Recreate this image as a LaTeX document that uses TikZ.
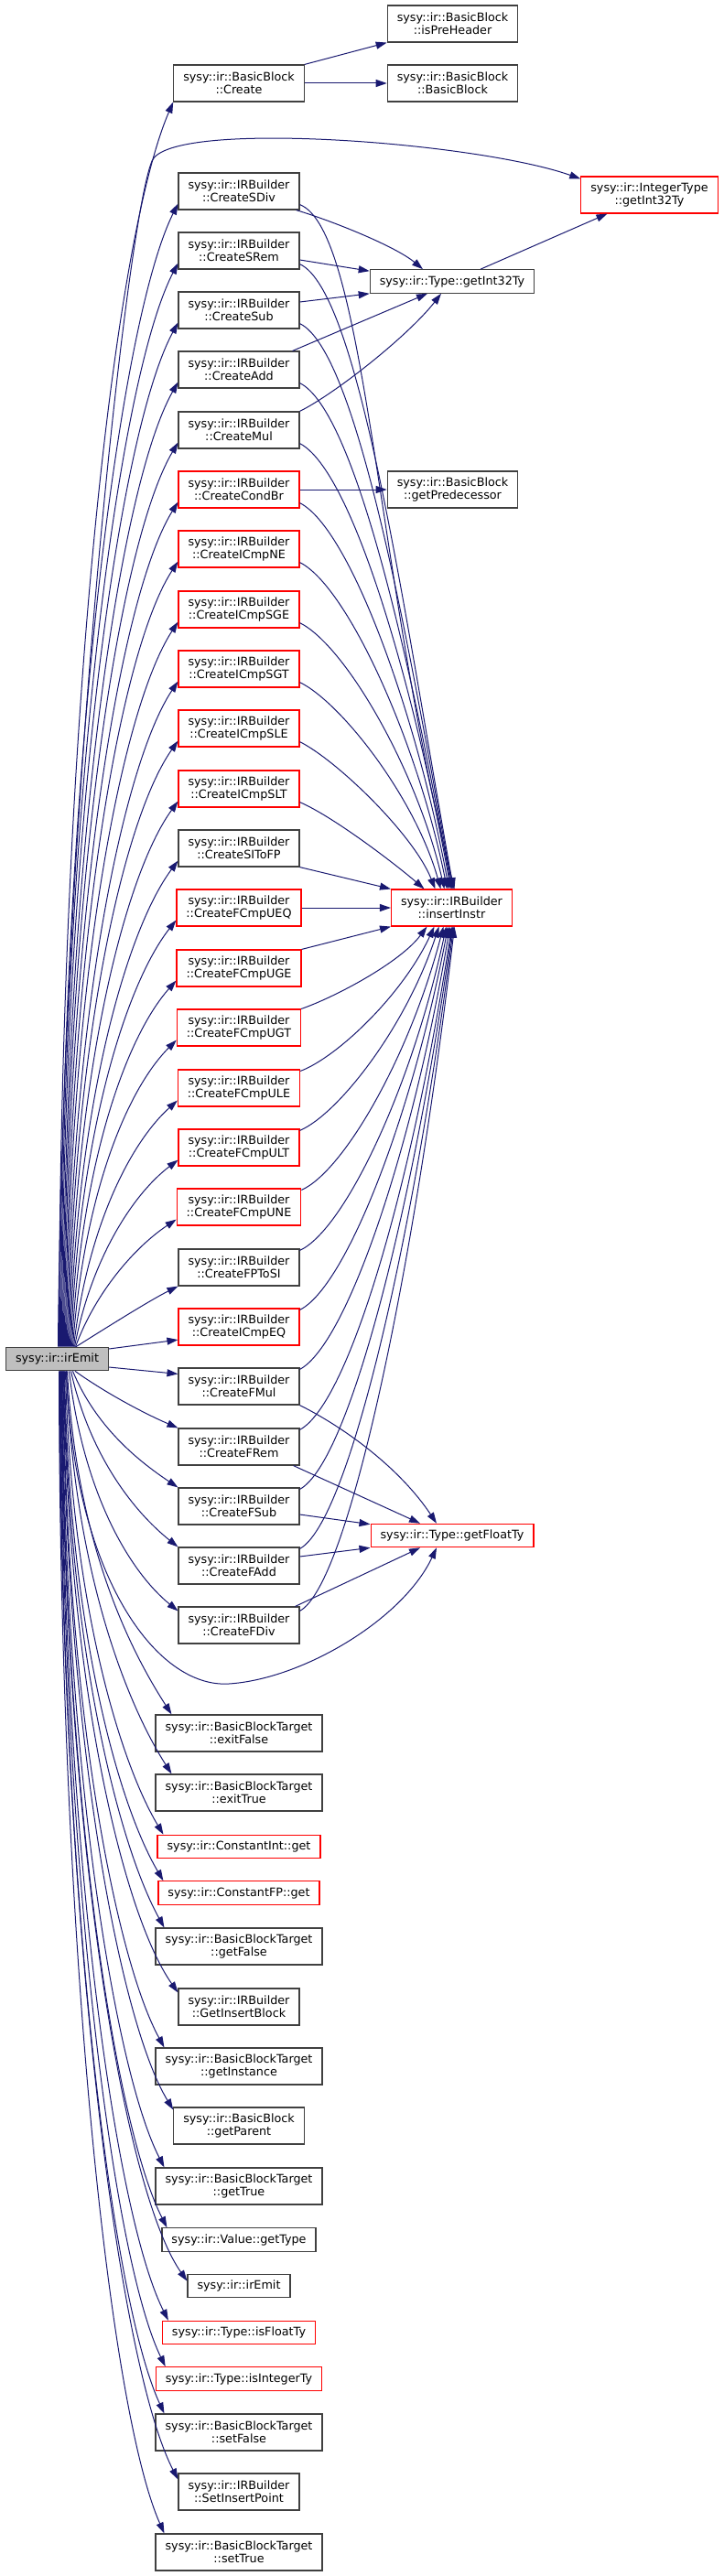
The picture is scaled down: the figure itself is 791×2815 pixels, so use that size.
\documentclass[tikz,border=0pt]{standalone}
\usepackage{fontspec}
\setmainfont{DejaVu Sans}
\usepackage{tikz}
\usetikzlibrary{arrows.meta}
\definecolor{edgeblue}{HTML}{191970}
\definecolor{grey25}{HTML}{404040}
\definecolor{grey75}{HTML}{BFBFBF}
\newcommand{\graphfont}{\fontsize{12.75pt}{14pt}\selectfont}

\begin{document}
\begin{tikzpicture}[x=1pt, y=-1pt, >={Triangle[length=12pt, width=8pt]},
    fn/.style={draw=grey25, line width=1.15pt, fill=white, align=center, font=\graphfont, inner xsep=10.5pt, inner ysep=0pt, minimum height=40pt},
    fnone/.style={fn, minimum height=25.5pt},
    trunc/.style={draw=red},
    rootfn/.style={fnone, fill=grey75},
    call/.style={->, draw=edgeblue, line width=1pt}]
	\useasboundingbox (0,0) rectangle (791,2815);
	\node[rootfn] (emit) at (62.5,1485) {sysy::ir::irEmit};
	% callees of irEmit
	\node[fn]        (bbcreate)    at (261,91)   {sysy::ir::BasicBlock\\::Create};
	\node[fn]        (sdiv)        at (261,209)  {sysy::ir::IRBuilder\\::CreateSDiv};
	\node[fn]        (srem)        at (261,274)  {sysy::ir::IRBuilder\\::CreateSRem};
	\node[fn]        (sub)         at (261,339)  {sysy::ir::IRBuilder\\::CreateSub};
	\node[fn]        (add)         at (261,404)  {sysy::ir::IRBuilder\\::CreateAdd};
	\node[fn]        (mul)         at (261,470)  {sysy::ir::IRBuilder\\::CreateMul};
	\node[fn, trunc] (condbr)      at (261,535)  {sysy::ir::IRBuilder\\::CreateCondBr};
	\node[fn, trunc] (icmpne)      at (261,600)  {sysy::ir::IRBuilder\\::CreateICmpNE};
	\node[fn, trunc] (icmpsge)     at (261,666)  {sysy::ir::IRBuilder\\::CreateICmpSGE};
	\node[fn, trunc] (icmpsgt)     at (261,731)  {sysy::ir::IRBuilder\\::CreateICmpSGT};
	\node[fn, trunc] (icmpsle)     at (261,796)  {sysy::ir::IRBuilder\\::CreateICmpSLE};
	\node[fn, trunc] (icmpslt)     at (261,862)  {sysy::ir::IRBuilder\\::CreateICmpSLT};
	\node[fn]        (sitofp)      at (261,927)  {sysy::ir::IRBuilder\\::CreateSIToFP};
	\node[fn, trunc] (fcmpueq)     at (261,992)  {sysy::ir::IRBuilder\\::CreateFCmpUEQ};
	\node[fn, trunc] (fcmpuge)     at (261,1058) {sysy::ir::IRBuilder\\::CreateFCmpUGE};
	\node[fn, trunc] (fcmpugt)     at (261,1123) {sysy::ir::IRBuilder\\::CreateFCmpUGT};
	\node[fn, trunc] (fcmpule)     at (261,1189) {sysy::ir::IRBuilder\\::CreateFCmpULE};
	\node[fn, trunc] (fcmpult)     at (261,1254) {sysy::ir::IRBuilder\\::CreateFCmpULT};
	\node[fn, trunc] (fcmpune)     at (261,1319) {sysy::ir::IRBuilder\\::CreateFCmpUNE};
	\node[fn]        (fptosi)      at (261,1385) {sysy::ir::IRBuilder\\::CreateFPToSI};
	\node[fn, trunc] (icmpeq)      at (261,1450) {sysy::ir::IRBuilder\\::CreateICmpEQ};
	\node[fn]        (fmul)        at (261,1515) {sysy::ir::IRBuilder\\::CreateFMul};
	\node[fn]        (frem)        at (261,1581) {sysy::ir::IRBuilder\\::CreateFRem};
	\node[fn]        (fsub)        at (261,1646) {sysy::ir::IRBuilder\\::CreateFSub};
	\node[fn]        (fadd)        at (261,1711) {sysy::ir::IRBuilder\\::CreateFAdd};
	\node[fn]        (fdiv)        at (261,1776) {sysy::ir::IRBuilder\\::CreateFDiv};
	\node[fn]        (exitfalse)   at (261,1894) {sysy::ir::BasicBlockTarget\\::exitFalse};
	\node[fn]        (exittrue)    at (261,1959) {sysy::ir::BasicBlockTarget\\::exitTrue};
	\node[fnone, trunc] (cintget)  at (261,2018) {sysy::ir::ConstantInt::get};
	\node[fnone, trunc] (cfpget)   at (261,2068.5) {sysy::ir::ConstantFP::get};
	\node[fn]        (getfalse)    at (261,2127) {sysy::ir::BasicBlockTarget\\::getFalse};
	\node[fn]        (getinsert)   at (261,2193) {sysy::ir::IRBuilder\\::GetInsertBlock};
	\node[fn]        (getinstance) at (261,2258) {sysy::ir::BasicBlockTarget\\::getInstance};
	\node[fn]        (getparent)   at (261,2323) {sysy::ir::BasicBlock\\::getParent};
	\node[fn]        (gettrue)     at (261,2389) {sysy::ir::BasicBlockTarget\\::getTrue};
	\node[fnone]     (gettype)     at (261,2447.5) {sysy::ir::Value::getType};
	\node[fnone]     (iremit)      at (261,2498) {sysy::ir::irEmit};
	\node[fnone, trunc] (isfloat)  at (261,2549) {sysy::ir::Type::isFloatTy};
	\node[fnone, trunc] (isint)    at (261,2599.5) {sysy::ir::Type::isIntegerTy};
	\node[fn]        (setfalse)    at (261,2658) {sysy::ir::BasicBlockTarget\\::setFalse};
	\node[fn]        (setinsert)   at (261,2723) {sysy::ir::IRBuilder\\::SetInsertPoint};
	\node[fn]        (settrue)     at (261,2789) {sysy::ir::BasicBlockTarget\\::setTrue};
	% second level
	\node[fn]        (ispreheader) at (494.5,26)  {sysy::ir::BasicBlock\\::isPreHeader};
	\node[fn]        (bbctor)      at (494.5,91)  {sysy::ir::BasicBlock\\::BasicBlock};
	\node[fnone]     (int32)       at (494,307.5) {sysy::ir::Type::getInt32Ty};
	\node[fn]        (getpred)     at (494.5,535) {sysy::ir::BasicBlock\\::getPredecessor};
	\node[fn, trunc] (insert)      at (493.5,992) {sysy::ir::IRBuilder\\::insertInstr};
	\node[fnone, trunc] (floatty)  at (494,1678)  {sysy::ir::Type::getFloatTy};
	\node[fn, trunc] (intty)       at (709.5,213) {sysy::ir::IntegerType\\::getInt32Ty};
	% irEmit, upward calls
	\draw[call] ([xshift=2pt]emit.north) .. controls +(1,-680) and +(-65,150) .. (bbcreate.south west);
	\draw[call] ([xshift=1pt]emit.north) .. controls (68,900) and (137.5,245) .. (166,176) .. controls (185,130) and (520,155) .. ([yshift=-3pt]intty.north west);
	\draw[call] ([xshift=3pt]emit.north) .. controls +(1,-620) and +(-65,130) .. ([yshift=7pt]sdiv.south west);
	\draw[call] ([xshift=4pt]emit.north) .. controls +(1,-590) and +(-65,125) .. ([yshift=7pt]srem.south west);
	\draw[call] ([xshift=5pt]emit.north) .. controls +(1,-560) and +(-65,120) .. ([yshift=7pt]sub.south west);
	\draw[call] ([xshift=6pt]emit.north) .. controls +(2,-530) and +(-65,115) .. ([yshift=7pt]add.south west);
	\draw[call] ([xshift=7pt]emit.north) .. controls +(2,-500) and +(-65,110) .. ([yshift=7pt]mul.south west);
	\draw[call] ([xshift=8pt]emit.north) .. controls +(2,-460) and +(-65,105) .. ([yshift=7pt]condbr.south west);
	\draw[call] ([xshift=9pt]emit.north) .. controls +(3,-430) and +(-65,100) .. ([yshift=7pt]icmpne.south west);
	\draw[call] ([xshift=10pt]emit.north) .. controls +(3,-400) and +(-62,95) .. ([yshift=7pt]icmpsge.south west);
	\draw[call] ([xshift=11pt]emit.north) .. controls +(4,-360) and +(-60,90) .. ([yshift=7pt]icmpsgt.south west);
	\draw[call] ([xshift=12pt]emit.north) .. controls +(5,-330) and +(-60,85) .. ([yshift=7pt]icmpsle.south west);
	\draw[call] ([xshift=13pt]emit.north) .. controls +(6,-300) and +(-58,80) .. ([yshift=7pt]icmpslt.south west);
	\draw[call] ([xshift=14pt]emit.north) .. controls +(7,-265) and +(-56,75) .. ([yshift=7pt]sitofp.south west);
	\draw[call] ([xshift=15pt]emit.north) .. controls +(8,-230) and +(-55,70) .. ([yshift=7pt]fcmpueq.south west);
	\draw[call] ([xshift=16pt]emit.north) .. controls +(10,-200) and +(-55,62) .. ([yshift=7pt]fcmpuge.south west);
	\draw[call] ([xshift=17pt]emit.north) .. controls +(12,-165) and +(-55,55) .. ([yshift=7pt]fcmpugt.south west);
	\draw[call] ([xshift=18pt]emit.north) .. controls +(15,-130) and +(-52,47) .. ([yshift=7pt]fcmpule.south west);
	\draw[call] ([xshift=19pt]emit.north) .. controls +(18,-95) and +(-50,38) .. ([yshift=7pt]fcmpult.south west);
	\draw[call] ([xshift=20pt]emit.north) .. controls +(22,-60) and +(-45,30) .. ([yshift=7pt]fcmpune.south west);
	\draw[call] ([xshift=20.5pt]emit.north) .. controls +(35,-22) and +(-30,15) .. (fptosi.south west);
	\draw[call] ([yshift=11pt]emit.east) -- ([yshift=6.5pt]icmpeq.south west);
	% irEmit, downward calls
	\draw[call] ([yshift=-9pt]emit.east) -- ([yshift=-7pt]fmul.north west);
	\draw[call] ([xshift=19.5pt]emit.south) .. controls +(35,25) and +(-35,-15) .. (frem.north west);
	\draw[call] ([xshift=17pt]emit.south) .. controls +(25,60) and +(-45,-30) .. (fsub.north west);
	\draw[call] ([xshift=15pt]emit.south) .. controls +(20,90) and +(-50,-40) .. (fadd.north west);
	\draw[call] ([xshift=13pt]emit.south) .. controls +(15,130) and +(-55,-45) .. ([yshift=-5pt]fdiv.north west);
	\draw[call] ([xshift=10pt]emit.south) .. controls (80,1720) and (170,1845) .. (250,1840) .. controls (330,1835) and (440,1770) .. ([xshift=-17pt]floatty.south);
	\draw[call] ([xshift=11pt]emit.south) .. controls +(10,190) and +(-45,-70) .. ([xshift=18pt]exitfalse.north west);
	\draw[call] ([xshift=10pt]emit.south) .. controls +(8,220) and +(-48,-75) .. ([xshift=18pt]exittrue.north west);
	\draw[call] ([xshift=9pt]emit.south) .. controls +(6,250) and +(-48,-80) .. ([xshift=7pt]cintget.north west);
	\draw[call] ([xshift=8pt]emit.south) .. controls +(5,280) and +(-50,-85) .. ([xshift=6pt]cfpget.north west);
	\draw[call] ([xshift=7.5pt]emit.south) .. controls +(4,300) and +(-50,-90) .. ([xshift=10pt]getfalse.north west);
	\draw[call] ([xshift=7pt]emit.south) .. controls +(4,340) and +(-60,-85) .. ([yshift=-5pt]getinsert.north west);
	\draw[call] ([xshift=6.5pt]emit.south) .. controls +(3,370) and +(-52,-95) .. ([xshift=10pt]getinstance.north west);
	\draw[call] ([xshift=6pt]emit.south) .. controls +(3,400) and +(-58,-95) .. ([yshift=-3pt]getparent.north west);
	\draw[call] ([xshift=5.5pt]emit.south) .. controls +(2,430) and +(-54,-105) .. ([xshift=10pt]gettrue.north west);
	\draw[call] ([xshift=5pt]emit.south) .. controls +(2,470) and +(-56,-110) .. ([xshift=6pt]gettype.north west);
	\draw[call] ([xshift=4.5pt]emit.south) .. controls +(2,500) and +(-70,-100) .. ([yshift=-8pt]iremit.north west);
	\draw[call] ([xshift=4pt]emit.south) .. controls +(2,520) and +(-58,-115) .. ([xshift=7pt]isfloat.north west);
	\draw[call] ([xshift=3.5pt]emit.south) .. controls +(2,540) and +(-58,-120) .. ([xshift=11pt]isint.north west);
	\draw[call] ([xshift=3pt]emit.south) .. controls +(1,570) and +(-58,-125) .. ([xshift=10pt]setfalse.north west);
	\draw[call] ([xshift=2.5pt]emit.south) .. controls +(1,600) and +(-65,-125) .. ([yshift=-7pt]setinsert.north west);
	\draw[call] ([xshift=2pt]emit.south) .. controls +(1,630) and +(-60,-135) .. ([xshift=10pt]settrue.north west);
	% BasicBlock::Create and CreateCondBr
	\draw[call] (bbcreate.north east) -- (ispreheader.south west);
	\draw[call] (bbcreate.east) -- (bbctor.west);
	\draw[call] (condbr.east) -- (getpred.west);
	% Type::getInt32Ty
	\draw[call] ([xshift=-4pt]sdiv.south east) .. controls +(40,12) and +(-30,-25) .. ([xshift=-32pt]int32.north);
	\draw[call] ([yshift=-10pt]srem.east) -- ([yshift=-2pt]int32.north west);
	\draw[call] ([yshift=9pt]sub.east) -- (int32.south west);
	\draw[call] ([xshift=-8pt]add.north east) -- ([xshift=-27pt]int32.south);
	\draw[call] (mul.north east) .. controls +(40,-20) and +(-35,45) .. ([xshift=-12pt]int32.south);
	\draw[call] ([xshift=31pt]int32.north) -- ([xshift=-46pt]intty.south);
	% IRBuilder::insertInstr, from above
	\draw[call] ([yshift=6pt]sdiv.south east) .. controls +(72,28) and +(-85,-337) .. ([xshift=3pt]insert.north);
	\draw[call] ([yshift=6pt]srem.south east) .. controls +(65,30) and +(-55,-308) .. ([xshift=2pt]insert.north);
	\draw[call] ([yshift=6pt]sub.south east) .. controls +(62,30) and +(-50,-280) .. ([xshift=1pt]insert.north);
	\draw[call] ([yshift=6pt]add.south east) .. controls +(60,30) and +(-45,-250) .. (insert.north);
	\draw[call] ([yshift=6pt]mul.south east) .. controls +(58,30) and +(-40,-220) .. ([xshift=-1pt]insert.north);
	\draw[call] ([yshift=6pt]condbr.south east) .. controls +(55,28) and +(-35,-190) .. ([xshift=-3pt]insert.north);
	\draw[call] ([yshift=6pt]icmpne.south east) .. controls +(52,26) and +(-32,-160) .. ([xshift=-5pt]insert.north);
	\draw[call] ([yshift=6pt]icmpsge.south east) .. controls +(50,25) and +(-30,-130) .. ([xshift=-8pt]insert.north);
	\draw[call] ([yshift=6pt]icmpsgt.south east) .. controls +(45,22) and +(-28,-100) .. ([xshift=-12pt]insert.north);
	\draw[call] ([yshift=6pt]icmpsle.south east) .. controls +(40,20) and +(-24,-60) .. ([xshift=-18pt]insert.north);
	\draw[call] ([yshift=6pt]icmpslt.south east) .. controls +(35,15) and +(-35,-30) .. ([xshift=-30pt]insert.north);
	\draw[call] (sitofp.south east) -- (insert.north west);
	\draw[call] (fcmpueq.east) -- (insert.west);
	\draw[call] (fcmpuge.north east) -- (insert.south west);
	% IRBuilder::insertInstr, from below
	\draw[call] (fcmpugt.north east) .. controls +(35,-12) and +(-30,40) .. ([xshift=-27pt]insert.south);
	\draw[call] ([yshift=-2pt]fcmpule.north east) .. controls +(40,-15) and +(-35,75) .. ([xshift=-19pt]insert.south);
	\draw[call] ([yshift=-2pt]fcmpult.north east) .. controls +(42,-18) and +(-36,110) .. ([xshift=-14pt]insert.south);
	\draw[call] ([yshift=-2pt]fcmpune.north east) .. controls +(45,-20) and +(-38,145) .. ([xshift=-9pt]insert.south);
	\draw[call] ([yshift=-2pt]fptosi.north east) .. controls +(48,-22) and +(-38,178) .. ([xshift=-6pt]insert.south);
	\draw[call] ([yshift=-2pt]icmpeq.north east) .. controls +(50,-25) and +(-40,210) .. ([xshift=-4pt]insert.south);
	\draw[call] ([yshift=-2pt]fmul.north east) .. controls +(52,-28) and +(-40,240) .. ([xshift=-2pt]insert.south);
	\draw[call] ([yshift=-2pt]frem.north east) .. controls +(55,-30) and +(-42,275) .. (insert.south);
	\draw[call] ([yshift=-2pt]fsub.north east) .. controls +(55,-30) and +(-42,300) .. ([xshift=1pt]insert.south);
	\draw[call] ([yshift=-2pt]fadd.north east) .. controls +(55,-30) and +(-42,330) .. ([xshift=2pt]insert.south);
	\draw[call] ([yshift=-5pt]fdiv.north east) .. controls +(55,-30) and +(-42,360) .. ([xshift=3pt]insert.south);
	% Type::getFloatTy
	\draw[call] (fmul.south east) .. controls +(50,25) and +(-40,-60) .. ([xshift=-17pt]floatty.north);
	\draw[call] ([xshift=-7pt]frem.south east) -- ([xshift=-35pt]floatty.north);
	\draw[call] ([yshift=-9pt]fsub.east) -- ([yshift=-1pt]floatty.north west);
	\draw[call] ([yshift=10pt]fadd.east) -- (floatty.south west);
	\draw[call] ([xshift=-5pt]fdiv.north east) -- ([xshift=-35pt]floatty.south);
\end{tikzpicture}
\end{document}
